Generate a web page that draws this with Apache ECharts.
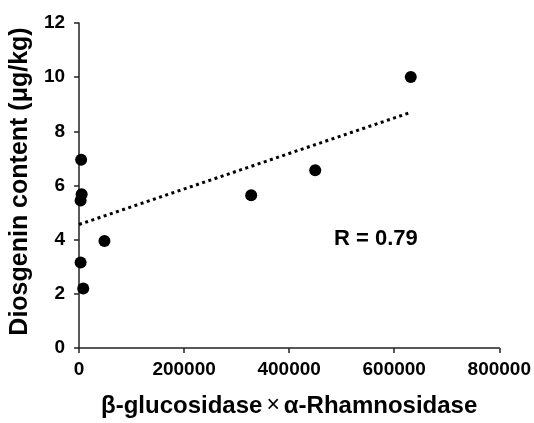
<!DOCTYPE html>
<html>
<head>
<meta charset="utf-8">
<script src="https://cdn.jsdelivr.net/npm/echarts@6/dist/echarts.min.js"></script>
<style>
  html, body { margin: 0; padding: 0; background: #fff; }
  #main { width: 534px; height: 423px; }
</style>
</head>
<body>
<div id="main"></div>
<script>
// 数据点 (x = β-glucosidase × α-Rhamnosidase, y = diosgenin)
var enzymeX = [4000, 5000, 3000, 3000, 8000, 48400, 327700, 449600, 631500];
var diosgeninY = [6.95, 5.68, 5.45, 3.16, 2.2, 3.95, 5.64, 6.56, 10.01];

// 趋势线两端
var trendX = [0, 630000];
var trendY = [4.56, 8.69];

var xTicks = [0, 200000, 400000, 600000, 800000];
var yTicks = [0, 2, 4, 6, 8, 10, 12];

var font = 'Liberation Sans, Arial, sans-serif';

var chart = echarts.init(document.getElementById('main'));

var points = enzymeX.map(function (x, i) { return [x, diosgeninY[i]]; });
var trend = trendX.map(function (x, i) { return [x, trendY[i]]; });

var option = {
    animation: false,
    grid: { left: 77, right: 32, top: 23, bottom: 70 },
    xAxis: {
        type: 'value',
        min: xTicks[0],
        max: xTicks[xTicks.length - 1],
        interval: 200000,
        name: '{b|β-glucosidase}{m|×}{b|α-Rhamnosidase}',
        nameLocation: 'middle',
        nameGap: 46,
        nameTextStyle: {
            rich: {
                b: { fontFamily: font, fontWeight: 'bold', fontSize: 24, color: '#000' },
                m: { fontFamily: font, fontWeight: 'normal', fontSize: 23, color: '#000', padding: [0, 4, 0, 4] }
            }
        },
        splitLine: { show: false },
        axisLine: { lineStyle: { color: '#222', width: 1.5 } },
        axisTick: { show: true, length: 5, lineStyle: { color: '#222', width: 1.5 } },
        axisLabel: {
            fontFamily: font, fontWeight: 'bold', fontSize: 19, color: '#000', margin: 12,
            formatter: function (v) { return String(v); }
        }
    },
    yAxis: {
        type: 'value',
        min: yTicks[0],
        max: yTicks[yTicks.length - 1],
        interval: 2,
        name: 'Diosgenin content (μg/kg)',
        nameLocation: 'middle',
        nameGap: 42,
        nameRotate: 90,
        nameTextStyle: { fontFamily: font, fontWeight: 'bold', fontSize: 25, color: '#000', padding: [0, 0, 0, 8] },
        splitLine: { show: false },
        axisLine: { show: true, lineStyle: { color: '#222', width: 1.5 } },
        axisTick: { show: true, length: 5, lineStyle: { color: '#222', width: 1.5 } },
        axisLabel: { fontFamily: font, fontWeight: 'bold', fontSize: 19, color: '#000', margin: 14 }
    },
    series: [
        {
            type: 'line',
            data: trend,
            symbol: 'none',
            lineStyle: { color: '#000', width: 3, type: [3, 3.5] },
            z: 1
        },
        {
            type: 'scatter',
            data: points,
            symbolSize: 12,
            itemStyle: { color: '#000', opacity: 1 },
            z: 2
        }
    ],
    graphic: [
        {
            type: 'text',
            left: 334,
            top: 228,
            style: { text: 'R = 0.79', fontFamily: font, fontWeight: 'bold', fontSize: 22, fill: '#000' }
        }
    ]
};

chart.setOption(option);
</script>
</body>
</html>
